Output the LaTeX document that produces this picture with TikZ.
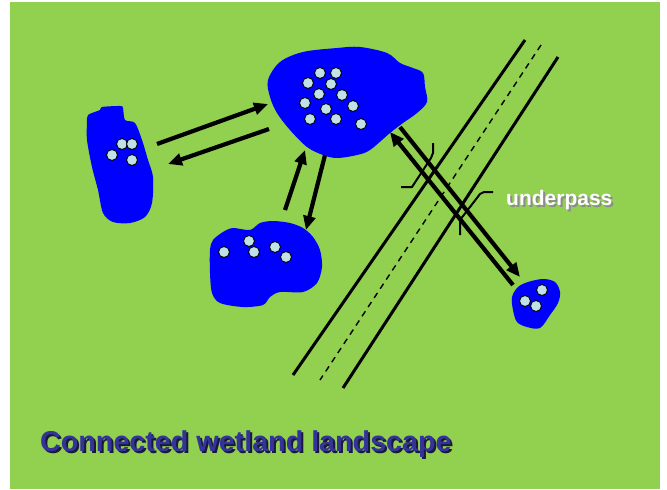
\documentclass[tikz,border=0pt]{standalone}
\usepackage{fontspec}
\setmainfont{Liberation Sans}
\usetikzlibrary{arrows.meta}
\definecolor{meadow}{RGB}{146,208,80}
\definecolor{dotblue}{RGB}{190,226,232}
\definecolor{titleblue}{RGB}{51,51,153}
\definecolor{titleshade}{RGB}{25,25,60}
\newcommand{\shadowed}[3]{\rlap{\hspace{2pt}\raisebox{-2pt}{\textcolor{#1}{#3}}}\textcolor{#2}{#3}}
\begin{document}
\begin{tikzpicture}[x=1pt,y=-1pt,
  pond/.style={fill=blue,draw=none},
  fish/.style={draw=black,line width=0.9pt,fill=dotblue},
  mv/.style={-{Triangle[length=14pt,width=12pt]},line width=4.2pt},
  road/.style={line width=3pt},
  mid/.style={line width=1.4pt,dash pattern=on 6pt off 5pt},
  brk/.style={line width=2pt},
  ttl/.style={font=\bfseries\fontsize{28.7}{32}\selectfont,inner sep=0pt,anchor=base west},
  lbl/.style={font=\bfseries\fontsize{21}{24}\selectfont,inner sep=0pt,anchor=base west}
]
  \useasboundingbox (0,0) rectangle (667,490);
  \fill[white] (0,0) rectangle (667,490);
  \fill[meadow] (10,2) rectangle (660,489);
  \fill[pond] plot[smooth cycle,tension=0.55] coordinates {(268,80) (280,62) (303,52) (337,48) (360,47) (387,53) (400,63) (413,68) (423,73) (425,87) (427,102) (417,113) (403,123) (390,133) (370,150) (357,155) (337,158) (323,155) (307,147) (290,130) (277,113) (270,97)};
  \fill[pond] plot[smooth cycle,tension=0.5] coordinates {(88,115) (100,110) (102,107) (120,106) (123,108) (125,120) (135,123) (142,140) (148,160) (153,177) (152,203) (145,217) (130,223) (113,222) (103,213) (98,190) (92,167) (87,140) (87,123)};
  \fill[pond] plot[smooth cycle,tension=0.5] coordinates {(213,240) (223,232) (233,228) (250,230) (260,223) (273,221) (290,223) (303,228) (313,237) (320,250) (322,267) (317,283) (303,292) (280,292) (270,297) (263,305) (243,307) (220,303) (212,293) (210,273) (210,250)};
  \fill[pond] plot[smooth cycle,tension=0.55] coordinates {(512,297) (518,287) (528,282) (543,279) (555,282) (560,292) (558,303) (550,315) (540,328) (527,327) (517,322) (513,310)};
  \foreach \x/\y in {320/73,336/73,308/83,331/84,319/94,342/95,305/103,353/106,326/109,310/119,336/119,361/124,112/155,122/144,132/144,132/160,224/252,249/241,254/252,275/247,286/257,542/290,525/301,536/306}
    \draw[fish] (\x,\y) circle[radius=5.5pt];
  \coordinate(rdla) at (525,40);
  \coordinate(rdlb) at (293,375);
  \coordinate(rdma) at (541,45);
  \coordinate(rdmb) at (320,380);
  \coordinate(rdra) at (558,57);
  \coordinate(rdrb) at (343,388);
  \draw[road](rdla)--(rdlb);
  \draw[mid](rdma)--(rdmb);
  \draw[road](rdra)--(rdrb);
  \coordinate(lp1) at (157,144);
  \coordinate(bp1) at (268,104);
  \coordinate(bp2) at (269,129);
  \coordinate(lp2) at (168,164);
  \coordinate(mp1) at (285,210);
  \coordinate(bp3) at (305,150);
  \coordinate(bp4) at (325,155);
  \coordinate(mp2) at (306,230);
  \coordinate(sp1) at (513,285);
  \coordinate(bp5) at (390,132);
  \coordinate(bp6) at (400,127);
  \coordinate(sp2) at (520,277);
  \draw[mv](lp1)--(bp1);
  \draw[mv](bp2)--(lp2);
  \draw[mv](mp1)--(bp3);
  \draw[mv](bp4)--(mp2);
  \draw[mv](sp1)--(bp5);
  \draw[mv](bp6)--(sp2);
  \draw[brk](401,187)--(412,187)--(431,158)--(433,153)--(433,143);
  \draw[brk](460,235)--(460,220)--(480,194)--(484,192)--(493,192);
  \node[lbl](up) at (506,205) {\shadowed{black!45}{white}{underpass}};
  \node[ttl](title) at (40,451) {\shadowed{titleshade}{titleblue}{Connected wetland landscape}};
\end{tikzpicture}
\end{document}
